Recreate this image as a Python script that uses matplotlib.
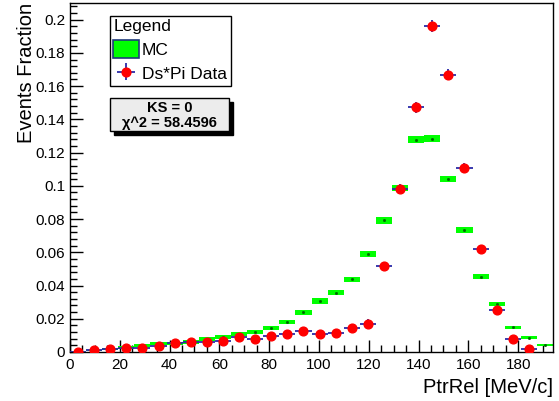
import numpy as np
import matplotlib
matplotlib.use('Agg')
import matplotlib.pyplot as plt
from matplotlib.patches import Patch, Rectangle
from matplotlib.ticker import MultipleLocator, FuncFormatter

plt.rcParams['font.family'] = ['Liberation Sans', 'DejaVu Sans']

# histogram: 30 bins over PtrRel
x_min, x_max, n_bins = 0, 194, 30

mc_frac = [0.0003, 0.0009, 0.0018, 0.0027, 0.0038, 0.0050, 0.0053, 0.0060, 0.0079, 0.0093,
           0.0109, 0.0120, 0.0143, 0.0180, 0.0238, 0.0306, 0.0358, 0.0437, 0.0588, 0.0792,
           0.0987, 0.1277, 0.1283, 0.1039, 0.0733, 0.0452, 0.0290, 0.0148, 0.0086, 0.0043]
mc_err = [0.0004, 0.0006, 0.0008, 0.0009, 0.0009, 0.0010, 0.0010, 0.0010, 0.0011, 0.0012,
          0.0012, 0.0013, 0.0013, 0.0014, 0.0015, 0.0016, 0.0016, 0.0017, 0.0018, 0.0019,
          0.0020, 0.0022, 0.0022, 0.0019, 0.0017, 0.0015, 0.0013, 0.0011, 0.0009, 0.0008]

data_frac = [0.0002, 0.0012, 0.0018, 0.0026, 0.0022, 0.0036, 0.0056, 0.0059, 0.0062, 0.0065,
             0.0089, 0.0079, 0.0097, 0.0110, 0.0129, 0.0107, 0.0117, 0.0145, 0.0171, 0.0518,
             0.0983, 0.1474, 0.1961, 0.1669, 0.1106, 0.0622, 0.0252, 0.0077, 0.0016, np.nan]
data_err = [0.0004, 0.0008, 0.0010, 0.0011, 0.0011, 0.0013, 0.0016, 0.0016, 0.0017, 0.0017,
            0.0019, 0.0018, 0.0020, 0.0021, 0.0022, 0.0021, 0.0022, 0.0024, 0.0026, 0.0021,
            0.0027, 0.0033, 0.0037, 0.0035, 0.0029, 0.0022, 0.0014, 0.0008, 0.0004, 0.0]

edges = np.linspace(x_min, x_max, n_bins + 1)
centers = 0.5 * (edges[1:] + edges[:-1])
width = edges[1] - edges[0]

mc_frac = np.array(mc_frac)
mc_err = np.array(mc_err)

fig = plt.figure(figsize=(5.59, 4.01), dpi=100)
ax = fig.add_axes([0.1252, 0.1222, 0.8641, 0.8703])

ax.bar(centers, 2 * mc_err, bottom=mc_frac - mc_err, width=width,
       color='#00ff00', edgecolor='none', zorder=2)
ax.plot(centers, mc_frac, ls='none', marker='s', ms=1, color='#006600', zorder=2)

eb = ax.errorbar(centers, data_frac, xerr=width / 2, yerr=data_err, fmt='o',
                 color='red', ms=6.3, ecolor='#2a2aa8', elinewidth=1.3,
                 capsize=0, zorder=3)

ax.set_xlim(x_min, x_max)
ax.set_ylim(0, 0.21)
ax.xaxis.set_major_locator(MultipleLocator(20))
ax.xaxis.set_minor_locator(MultipleLocator(5))
ax.yaxis.set_major_locator(MultipleLocator(0.02))
ax.yaxis.set_minor_locator(MultipleLocator(0.004))
ax.yaxis.set_major_formatter(FuncFormatter(lambda v, p: '%g' % round(v, 3)))
ax.tick_params(which='both', direction='in', top=False, right=False,
               labelsize=11, colors='black')
ax.tick_params(which='major', length=9, width=1)
ax.tick_params(which='minor', length=5, width=1)
ax.tick_params(axis='x', pad=4)
for s in ax.spines.values():
    s.set_linewidth(1)

ax.set_xlabel('PtrRel [MeV/c]', fontsize=14.5, loc='right', labelpad=5)
ax.set_ylabel('Events Fraction', fontsize=14.5, loc='top', labelpad=0)

mc_handle = Patch(facecolor='#00ff00', edgecolor='#1f3a7a', linewidth=1.2)
leg = ax.legend([mc_handle, eb], ['MC', 'Ds*Pi Data'], title='Legend',
                loc='upper left', bbox_to_anchor=(0.0828, 0.963),
                fancybox=False, edgecolor='black', framealpha=1,
                fontsize=12.5, title_fontsize=12.5, alignment='left',
                handlelength=1.45, handleheight=1.2, handletextpad=0.2,
                borderpad=0.2, labelspacing=0.35, borderaxespad=0)
leg.get_frame().set_linewidth(1)

# stats box with drop shadow
bx, by, bw, bh = 0.0828, 0.633, 0.246, 0.095
ax.add_patch(Rectangle((bx + 0.008, by - 0.011), bw, bh, transform=ax.transAxes,
                       facecolor='black', edgecolor='black', zorder=5, clip_on=False))
ax.add_patch(Rectangle((bx, by), bw, bh, transform=ax.transAxes,
                       facecolor='#ececec', edgecolor='black', lw=1, zorder=6,
                       clip_on=False))
ax.text(bx + bw / 2, by + bh * 0.69, 'KS = 0', transform=ax.transAxes,
        ha='center', va='center', fontsize=10.5, fontweight='bold', zorder=7)
ax.text(bx + bw / 2, by + bh * 0.24, '\u03c7^2 = 58.4596', transform=ax.transAxes,
        ha='center', va='center', fontsize=10.5, fontweight='bold', zorder=7)

fig.savefig('out.png', dpi=100)
